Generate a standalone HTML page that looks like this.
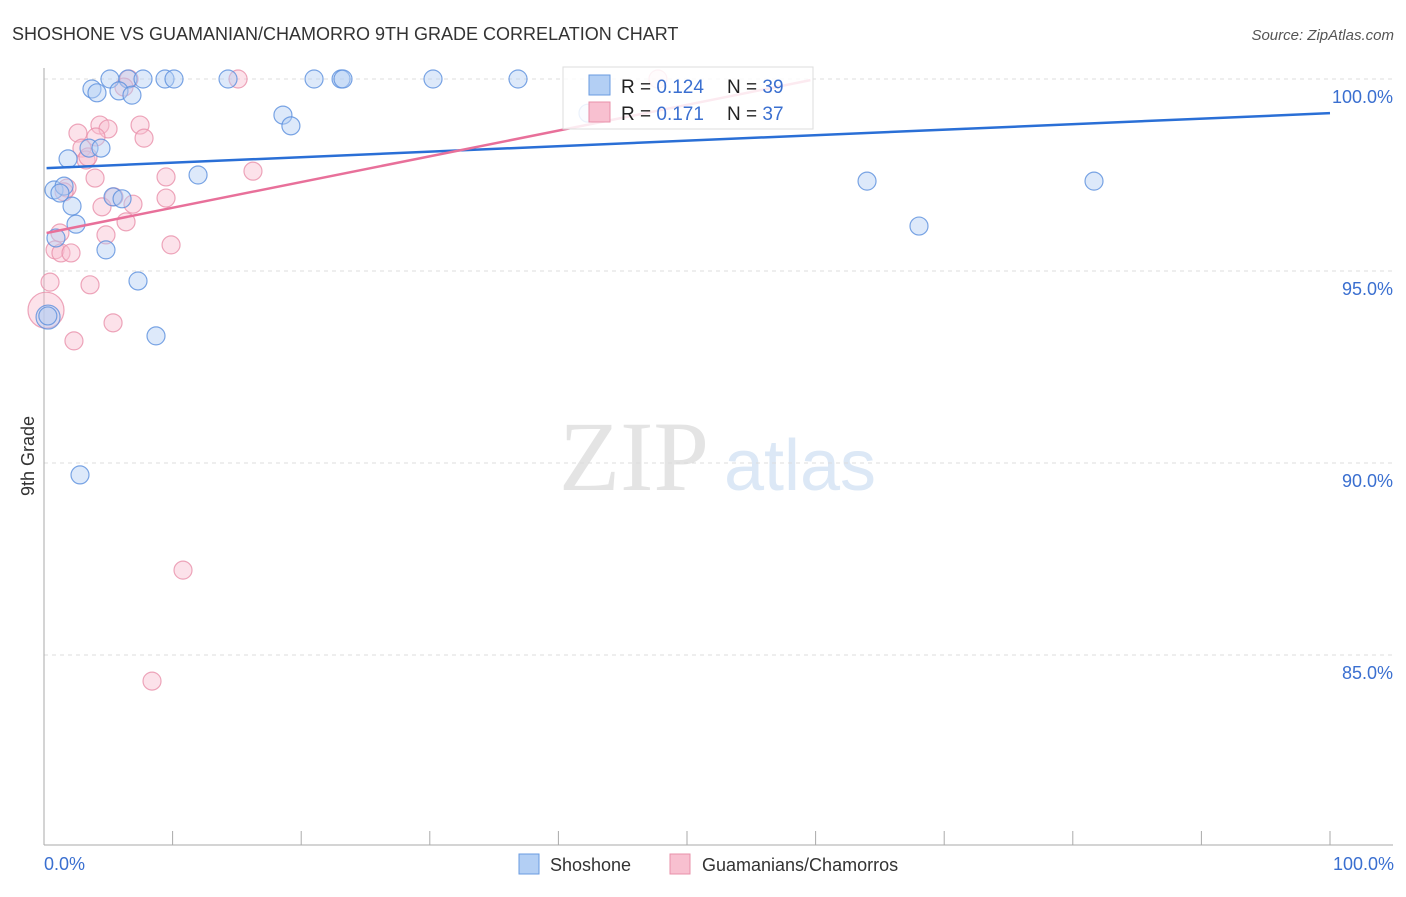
<!DOCTYPE html>
<html><head><meta charset="utf-8"><style>
body{margin:0;background:#fff;font-family:"Liberation Sans",sans-serif;}
</style></head><body>
<svg width="1406" height="892" viewBox="0 0 1406 892" font-family="Liberation Sans, sans-serif">
<text x="12" y="40" font-size="18" fill="#333">SHOSHONE VS GUAMANIAN/CHAMORRO 9TH GRADE CORRELATION CHART</text>
<text x="1394" y="40" font-size="15" fill="#555" text-anchor="end" font-style="italic">Source: ZipAtlas.com</text>
<text x="634" y="490" font-size="100" fill="#e4e4e4" text-anchor="middle" style="font-family:'Liberation Serif',serif">ZIP</text>
<text x="800" y="490" font-size="72" fill="#dce8f6" text-anchor="middle">atlas</text>
<g id="grid"></g>
<g id="axes"></g>
<g id="pts"></g>
<g id="lines"></g>
<text transform="translate(34,456) rotate(-90)" font-size="18" fill="#333" text-anchor="middle">9th Grade</text>
<text x="44" y="870" font-size="18" fill="#3a6fd0">0.0%</text>
<text x="1394" y="870" font-size="18" fill="#3a6fd0" text-anchor="end">100.0%</text>
<g>
<rect x="563" y="67" width="250" height="62" fill="#fff" fill-opacity="0.85" stroke="#ddd"/>
<rect x="589" y="75" width="21" height="20" fill="#b3cff4" stroke="#6a9be0"/>
<rect x="589" y="102" width="21" height="20" fill="#f8c0d0" stroke="#e890aa"/>
<text x="621" y="93" font-size="19" fill="#222">R = <tspan fill="#3a6fd0">0.124</tspan></text>
<text x="727" y="93" font-size="19" fill="#222">N = <tspan fill="#3a6fd0">39</tspan></text>
<text x="621" y="120" font-size="19" fill="#222">R = <tspan fill="#3a6fd0"> 0.171</tspan></text>
<text x="727" y="120" font-size="19" fill="#222">N = <tspan fill="#3a6fd0">37</tspan></text>
</g>
<g>
<rect x="519" y="854" width="20" height="20" fill="#b3cff4" stroke="#6a9be0"/>
<text x="550" y="871" font-size="18" fill="#333">Shoshone</text>
<rect x="670" y="854" width="20" height="20" fill="#f8c0d0" stroke="#e890aa"/>
<text x="702" y="871" font-size="18" fill="#333">Guamanians/Chamorros</text>
</g>
</svg>
<script>
const blueX=[5.13,6.53,7.70,9.41,10.11,14.31,21.0,23.1,23.25,30.25,36.86,3.73,4.12,5.83,6.84,18.58,19.2,11.98,3.5,4.43,1.87,0.78,1.56,1.24,2.18,5.37,6.07,2.49,0.93,4.82,7.31,8.71,2.8,0.16,64.0,68.04,81.65,42.3,0.3];
const blueY=[100,100,100,100,100,100,100,100,100,100,100,99.74,99.64,99.69,99.58,99.06,98.78,97.5,98.2,98.2,97.92,97.11,97.21,97.03,96.69,96.93,96.88,96.22,95.86,95.55,94.74,93.31,89.69,93.8,97.34,96.17,97.34,99.11,93.83];
const pinkX=[6.61,15.09,47.74,6.22,4.35,4.98,7.47,2.64,4.04,7.78,2.95,3.27,3.42,3.97,9.49,16.25,1.79,1.56,5.44,6.92,4.51,9.49,6.38,4.82,1.24,0.86,1.32,2.1,9.88,0.47,3.58,5.37,2.33,0,10.81,8.4,43.23];
const pinkY=[100,100,100,99.79,98.8,98.7,98.8,98.59,98.49,98.46,98.2,97.89,97.97,97.42,97.45,97.6,97.16,97.06,96.93,96.74,96.67,96.9,96.28,95.94,95.99,95.55,95.47,95.47,95.68,94.71,94.64,93.65,93.18,93.98,87.21,84.32,99.11];
const blueTrendX=[0.2,100];const blueTrendY=[97.68,99.11];
const pinkTrendX=[0.2,59.6];const pinkTrendY=[95.99,99.97];
const yTicks=[100,95,90,85];const yTickLabels=["100.0%","95.0%","90.0%","85.0%"];
const xTicks=[10,20,30,40,50,60,70,80,90,100];
const NS="http://www.w3.org/2000/svg";
const sx=v=>44+v*12.86, sy=v=>79+(100-v)*38.4;
function mk(t,a,p){const e=document.createElementNS(NS,t);for(const k in a)e.setAttribute(k,a[k]);p.appendChild(e);return e;}
const grid=document.getElementById('grid'),axes=document.getElementById('axes'),pts=document.getElementById('pts'),lines=document.getElementById('lines');
yTicks.forEach((v,i)=>{
 const l=mk('line',{x1:44,x2:1393,y1:sy(v),y2:sy(v),stroke:'#ddd','stroke-dasharray':'4,4'},grid);
 
 
 const t=mk('text',{x:1393,y:sy(v)+24,'font-size':18,fill:'#3a6fd0','text-anchor':'end'},grid);t.textContent=yTickLabels[i];
 
 
});
const ya=mk('line',{x1:44,x2:44,y1:68,y2:845,stroke:'#aaa'},axes);


const xa=mk('line',{x1:44,x2:1393,y1:845,y2:845,stroke:'#aaa'},axes);


xTicks.forEach(v=>{const t=mk('line',{x1:sx(v),x2:sx(v),y1:831,y2:845,stroke:'#aaa'},axes);
 
 });
function dots(X,Y,fill,stroke,name){X.forEach((x,i)=>{
 let r=9; if(x===0&&name==='pink-point')r=18; if(x<0.2&&name==='blue-point')r=12;
 const c=mk('circle',{cx:sx(x)+ (x<0.2?2:0),cy:sy(Y[i]),r:r,fill:fill,'fill-opacity':0.45,stroke:stroke,'stroke-opacity':0.8,'stroke-width':1.2},pts);
 
 
});}
dots(pinkX,pinkY,'#f8bfd0','#e890aa','pink-point');
dots(blueX,blueY,'#b3cff4','#5a8fdd','blue-point');
const bl=mk('line',{x1:sx(blueTrendX[0]),y1:sy(blueTrendY[0]),x2:sx(blueTrendX[1]),y2:sy(blueTrendY[1]),stroke:'#2a6fd6','stroke-width':2.5},lines);


const pl=mk('line',{x1:sx(pinkTrendX[0]),y1:sy(pinkTrendY[0]),x2:sx(pinkTrendX[1]),y2:sy(pinkTrendY[1]),stroke:'#e8709a','stroke-width':2.5},lines);


</script>
</body></html>
